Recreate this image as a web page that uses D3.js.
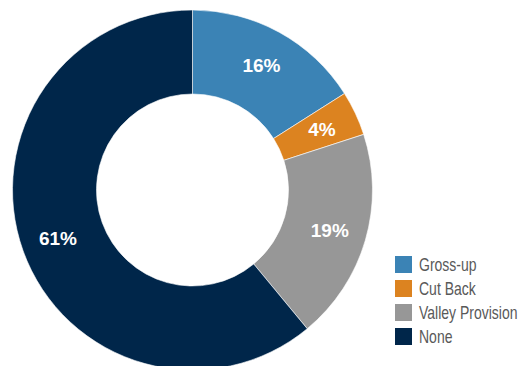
<!DOCTYPE html>
<html>
<head>
<meta charset="utf-8">
<script src="https://cdn.jsdelivr.net/npm/d3@7"></script>
<style>
  html, body { margin: 0; padding: 0; background: #ffffff; }
  svg { display: block; }
</style>
</head>
<body>
<div id="chart"></div>
<script>
// Share of agreements by provision type (percent)
const categories = ["Gross-up", "Cut Back", "Valley Provision", "None"];
const values = [16, 4, 19, 61];
const colors = ["#3b83b5", "#dc8320", "#979797", "#00264a"];

const width = 526, height = 366;
const cx = 192.5, cy = 190;
const outerR = 180, innerR = 96, labelR = 143;

const svg = d3.select("#chart").append("svg")
  .attr("width", width)
  .attr("height", height);

const color = d3.scaleOrdinal().domain(categories).range(colors);

const pie = d3.pie().sort(null).value(d => d.value);
const data = pie(categories.map((c, i) => ({ name: c, value: values[i] })));

const arc = d3.arc().innerRadius(innerR).outerRadius(outerR);
const labelArc = d3.arc().innerRadius(labelR).outerRadius(labelR);

const g = svg.append("g").attr("transform", `translate(${cx},${cy})`);

g.selectAll("path.slice")
  .data(data)
  .join("path")
  .attr("class", "slice")
  .attr("d", arc)
  .attr("fill", d => color(d.data.name))
  .attr("stroke", "#ffffff")
  .attr("stroke-width", 0.6);

g.selectAll("text.value")
  .data(data)
  .join("text")
  .attr("class", "value")
  .attr("transform", d => `translate(${labelArc.centroid(d)})`)
  .attr("text-anchor", "middle")
  .attr("dy", "0.36em")
  .attr("fill", "#ffffff")
  .style("font-family", "'Liberation Sans', Arial, Helvetica, sans-serif")
  .style("font-weight", "bold")
  .style("font-size", "19px")
  .text(d => d.data.value + "%");

// Legend (condensed label text)
const legend = svg.append("g").attr("transform", "translate(395,256)");
const row = legend.selectAll("g.item")
  .data(categories)
  .join("g")
  .attr("class", "item")
  .attr("transform", (d, i) => `translate(0,${i * 24})`);

row.append("rect")
  .attr("width", 17)
  .attr("height", 17)
  .attr("fill", d => color(d));

row.append("text")
  .attr("transform", "translate(24,8.5) scale(0.8,1)")
  .attr("dy", "0.36em")
  .attr("fill", "#595959")
  .style("font-family", "'Liberation Sans', Arial, sans-serif")
  .style("font-size", "17.5px")
  .text(d => d);
</script>
</body>
</html>
